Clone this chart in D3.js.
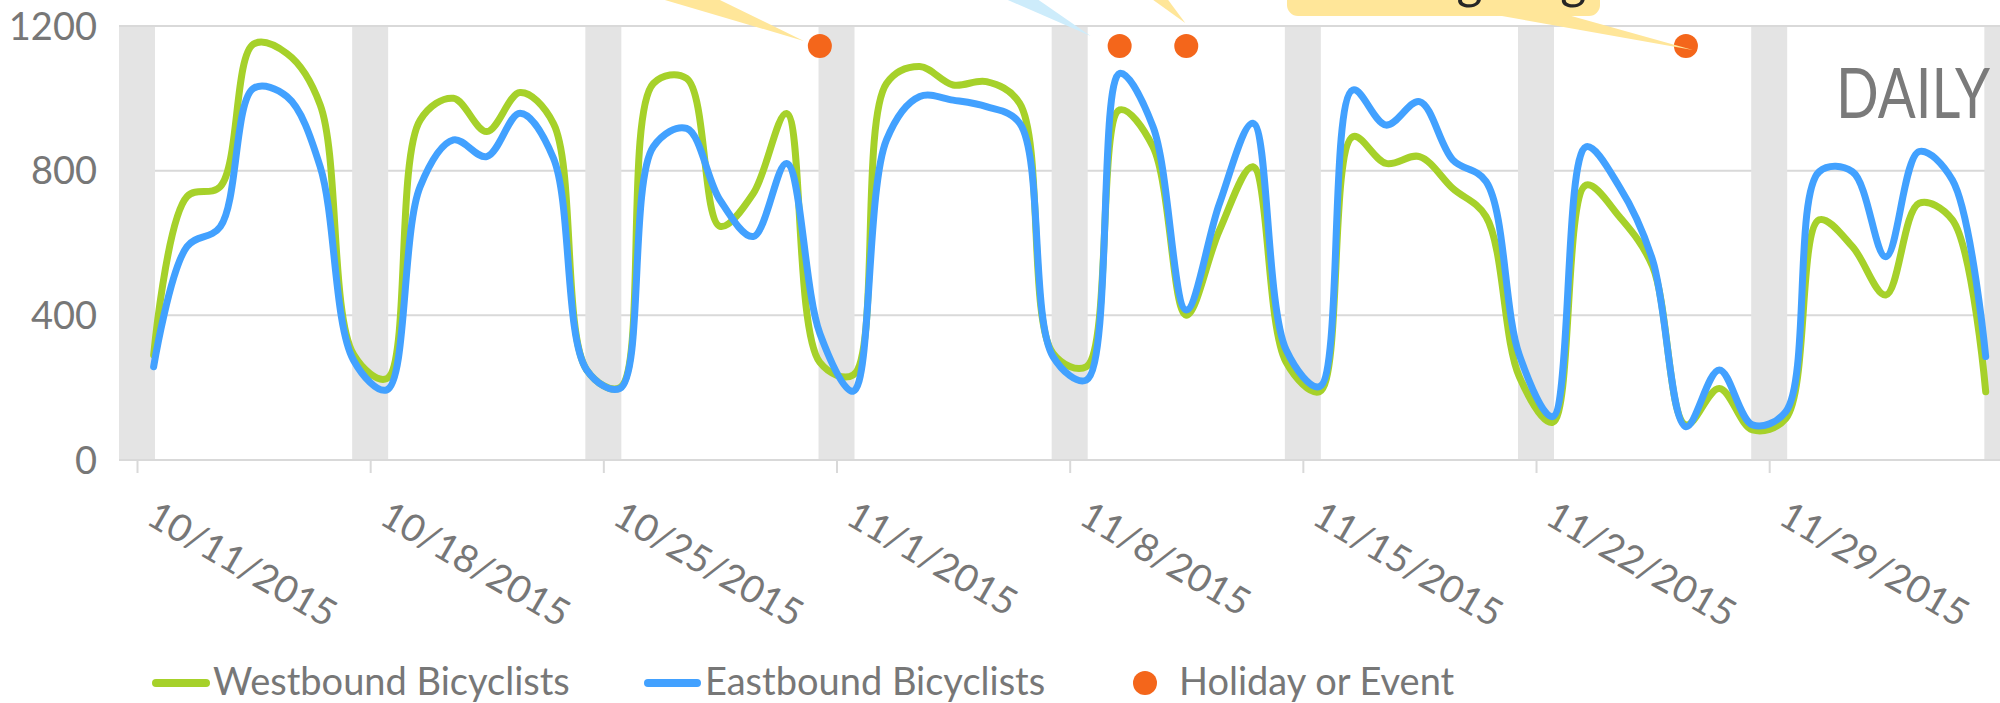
<!DOCTYPE html>
<html>
<head>
<meta charset="utf-8">
<script src="https://cdn.jsdelivr.net/npm/d3@7"></script>
<style>
  body { margin: 0; background: #fff; }
  text { font-family: Lato, "Open Sans", sans-serif; }
</style>
</head>
<body>
<script>
// daily counts, 10/11/2015 .. 12/5/2015
var startDay = new Date(2015, 9, 11);
var westbound = [290, 728, 756, 1150, 1124, 982, 292, 225, 940, 1000, 908, 1016, 931, 249, 200,
                 1041, 1055, 646, 737, 958, 270, 235, 1041, 1088, 1037, 1046, 986, 295, 258,
                 968, 866, 400, 636, 811, 270, 189, 894, 820, 839, 751, 673, 230, 104,
                 760, 673, 535, 97, 198, 83, 115, 664, 590, 456, 710, 664, 189];
var eastbound = [258, 590, 645, 1028, 1005, 811, 276, 194, 756, 885, 839, 959, 835, 249, 198,
                 866, 917, 719, 618, 820, 350, 190, 885, 1005, 995, 977, 931, 286, 221,
                 1069, 922, 415, 710, 931, 304, 203, 1023, 926, 991, 830, 770, 290, 120,
                 866, 756, 553, 92, 249, 97, 134, 797, 797, 562, 853, 774, 286];
var holidays = [new Date(2015, 9, 31), new Date(2015, 10, 9), new Date(2015, 10, 11), new Date(2015, 10, 26)];
var holidayLevel = 1145;
var yTicks = [0, 400, 800, 1200];
var seriesNames = ["Westbound Bicyclists", "Eastbound Bicyclists", "Holiday or Event"];

var w = 2000, h = 703;
var green = "#a6d12a", blue = "#42a1ff", orange = "#f4661b";
var grey = "#777777";

var days = westbound.map(function(v, i) { return d3.timeDay.offset(startDay, i); });
var endDay = d3.timeDay.offset(startDay, 56);

var svg = d3.select("body").append("svg").attr("width", w).attr("height", h);

var x = d3.scaleTime().domain([startDay, endDay]).range([137, 137 + 56 * 33.31]);
var y = d3.scaleLinear().domain([0, 1200]).range([460, 26]);
var plotLeft = 119;
var mid = function(d) { return x(d3.timeHour.offset(d, 12)); };

// gridlines
svg.append("g").selectAll("line")
    .data(yTicks)
    .enter().append("line")
    .attr("x1", plotLeft).attr("x2", w)
    .attr("y1", function(d) { return y(d); })
    .attr("y2", function(d) { return y(d); })
    .attr("stroke", "#d9d9d9").attr("stroke-width", 2);

// weekend bands, one per sunday tick
var sundays = d3.timeWeek.range(startDay, d3.timeDay.offset(endDay, 1));
svg.append("g").selectAll("rect")
    .data(sundays)
    .enter().append("rect")
    .attr("x", function(d) { return x(d) - 18; })
    .attr("y", y(1200) + 1)
    .attr("width", 36)
    .attr("height", y(0) - y(1200) - 2)
    .attr("fill", "#e4e4e4");

// x axis
var xAxis = svg.append("g")
    .attr("transform", "translate(0," + y(0) + ")")
    .call(d3.axisBottom(x)
        .tickValues(sundays.slice(0, 8))
        .tickSize(13)
        .tickFormat(d3.timeFormat("%-m/%-d/%Y")));
xAxis.select(".domain").remove();
xAxis.selectAll(".tick line").attr("stroke", "#d9d9d9").attr("stroke-width", 2);
xAxis.selectAll(".tick text")
    .attr("x", 0).attr("y", 0).attr("dy", 0)
    .attr("text-anchor", "start")
    .attr("transform", "translate(7,63) rotate(30)")
    .attr("fill", grey)
    .style("font-size", "38px");

// y axis labels
var yAxis = svg.append("g")
    .attr("transform", "translate(97,0)")
    .call(d3.axisLeft(y).tickValues(yTicks).tickSize(0).tickPadding(0).tickFormat(d3.format("d")));
yAxis.select(".domain").remove();
yAxis.selectAll(".tick text")
    .attr("fill", grey)
    .attr("dy", "0.35em")
    .style("font-size", "38px");

// lines
var line = d3.line()
    .x(function(d, i) { return mid(days[i]); })
    .y(function(d) { return y(d); })
    .curve(d3.curveCatmullRom.alpha(0.5));

svg.append("path").datum(westbound)
    .attr("d", line)
    .attr("fill", "none").attr("stroke", green)
    .attr("stroke-width", 7).attr("stroke-linecap", "round");
svg.append("path").datum(eastbound)
    .attr("d", line)
    .attr("fill", "none").attr("stroke", blue)
    .attr("stroke-width", 7).attr("stroke-linecap", "round");

// holiday markers
svg.append("g").selectAll("ellipse")
    .data(holidays)
    .enter().append("ellipse")
    .attr("cx", function(d) { return mid(d); })
    .attr("cy", y(holidayLevel))
    .attr("rx", 12).attr("ry", 12)
    .attr("fill", orange);

// callouts cut off at the top of the picture
var yellow = "#ffe699";
var hx = holidays.map(mid), hy = y(holidayLevel);
svg.append("polygon")
    .attr("points", [[hx[0] - 223, -20], [hx[0] - 141, -20], [hx[0] - 16, hy - 5]].join(" "))
    .attr("fill", yellow);
svg.append("polygon")
    .attr("points", [[hx[1] - 158, -20], [hx[1] - 110, -20], [hx[1] - 29, hy - 10]].join(" "))
    .attr("fill", "#cdecfb");
svg.append("polygon")
    .attr("points", [[hx[2] - 61, -20], [hx[2] - 33, -20], [hx[2] - 1, hy - 23]].join(" "))
    .attr("fill", yellow);
svg.append("rect")
    .attr("x", 1287).attr("y", -60).attr("width", 313).attr("height", 76).attr("rx", 11)
    .attr("fill", yellow);
svg.append("polygon")
    .attr("points", [[1468, 10], [1550, 10], [hx[3] + 7, hy + 4]].join(" "))
    .attr("fill", yellow);
svg.append("text")
    .attr("x", 1443).attr("y", -2)
    .attr("text-anchor", "middle")
    .attr("fill", "#262626")
    .style("font-size", "50px")
    .text("Thanksgiving");

// DAILY tag
svg.append("text")
    .attr("x", 1836).attr("y", 118)
    .attr("textLength", 154).attr("lengthAdjust", "spacingAndGlyphs")
    .attr("fill", "#7a7a7a")
    .style("font-size", "70px")
    .text("DAILY");

// legend
var legend = svg.append("g");
legend.append("line")
    .attr("x1", 156).attr("x2", 206).attr("y1", 683).attr("y2", 683)
    .attr("stroke", green).attr("stroke-width", 8).attr("stroke-linecap", "round");
legend.append("line")
    .attr("x1", 648).attr("x2", 697).attr("y1", 683).attr("y2", 683)
    .attr("stroke", blue).attr("stroke-width", 8).attr("stroke-linecap", "round");
legend.append("circle")
    .attr("cx", 1145).attr("cy", 683).attr("r", 12)
    .attr("fill", orange);
var legendX = [213, 705, 1179];
legend.selectAll("text")
    .data(seriesNames)
    .enter().append("text")
    .attr("x", function(d, i) { return legendX[i]; })
    .attr("y", 695)
    .attr("fill", grey)
    .style("font-size", "38px")
    .text(function(d) { return d; });
</script>
</body>
</html>
